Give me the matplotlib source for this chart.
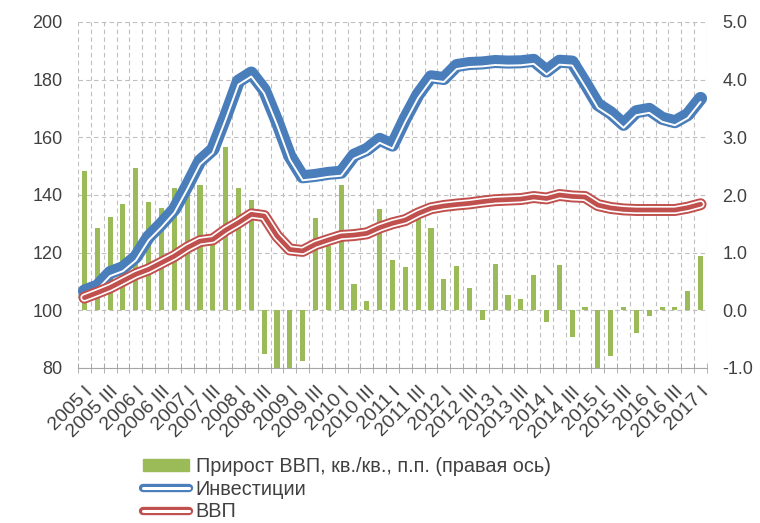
import matplotlib
matplotlib.use("Agg")
import matplotlib.pyplot as plt
import matplotlib.patheffects as pe
from matplotlib.lines import Line2D
from matplotlib.patches import Patch
import numpy as np

# Quarterly data, 2005 I .. 2017 I
years = list(range(2005, 2018))
quarter_names = ["I", "II", "III", "IV"]
quarters = [f"{y} {q}" for y in years for q in quarter_names][:49]

# GDP growth q/q, p.p. (right axis)
gdp_growth = [2.41, 1.43, 1.62, 1.85, 2.46, 1.88, 1.78, 2.13, 2.10, 2.17,
              1.15, 2.84, 2.13, 1.91, -0.75, -1.50, -1.30, -0.87, 1.60, 1.12,
              2.18, 0.45, 0.17, 1.75, 0.87, 0.76, 1.62, 1.42, 0.55, 0.77,
              0.39, -0.17, 0.81, 0.26, 0.19, 0.61, -0.20, 0.78, -0.47, 0.06,
              -1.05, -0.79, 0.05, -0.40, -0.10, 0.06, 0.05, 0.33, 0.95]

# Investments index (left axis)
investments = [106.7, 108.4, 113.1, 114.8, 118.5, 125.5, 130.0, 135.0, 143.1, 151.8,
               155.8, 167.3, 179.5, 182.3, 176.5, 165.6, 153.5, 146.3, 146.8, 147.5,
               147.9, 153.8, 155.8, 159.3, 157.3, 166.6, 174.9, 181.0, 180.4, 184.9,
               185.6, 185.8, 186.3, 186.1, 186.2, 186.7, 183.0, 186.4, 186.1, 178.9,
               171.4, 168.5, 164.5, 168.9, 169.7, 166.6, 165.4, 167.9, 173.5]

# GDP index (left axis)
gdp = [104.4, 106.1, 107.9, 110.2, 112.5, 114.2, 116.5, 118.8, 121.7, 124.0,
       124.6, 127.8, 130.4, 133.3, 132.7, 125.8, 121.1, 120.6, 122.9, 124.4,
       125.8, 126.1, 126.7, 128.7, 130.2, 131.3, 133.6, 135.4, 136.2, 136.7,
       137.1, 137.7, 138.2, 138.4, 138.6, 139.3, 138.8, 140.0, 139.5, 139.3,
       136.5, 135.5, 135.0, 134.8, 134.8, 134.8, 134.8, 135.6, 136.8]

left_ticks = [80, 100, 120, 140, 160, 180, 200]
right_ticks = [-1.0, 0.0, 1.0, 2.0, 3.0, 4.0, 5.0]

green = "#9BBB59"
blue = "#4A7EBB"
red = "#C0504D"
grid_c = "#BFBFBF"
text_c = "#404040"

plt.rcParams["font.family"] = ["Liberation Sans", "DejaVu Sans"]

fig = plt.figure(figsize=(7.6, 5.23), dpi=100)
ax = fig.add_axes([78 / 760, 1 - 368 / 523, (707 - 78) / 760, (368 - 22) / 523])
ax2 = ax.twinx()

x = np.arange(len(quarters))

# bars on the right-hand scale
ax.bar(x, gdp_growth, width=0.4, color=green, zorder=2)
ax.set_ylim(right_ticks[0], right_ticks[-1])
ax.set_xlim(-0.5, len(quarters) - 0.5)
ax.yaxis.tick_right()
ax.set_yticks(right_ticks)
ax.set_yticklabels([f"{v:.1f}" for v in right_ticks])
ax.tick_params(axis="y", length=0, pad=11, labelsize=13, labelcolor=text_c)

ax.set_xticks(x[::2])
ax.set_xticklabels(quarters[::2], rotation=45, ha="right", rotation_mode="anchor",
                   fontsize=14, color=text_c)
ax.set_xticks(np.arange(-0.5, len(quarters), 1), minor=True)
ax.tick_params(axis="x", which="major", length=0, pad=11)
ax.tick_params(axis="x", which="minor", direction="inout", length=7, color="#A6A6A6")

for s in ("top", "left", "right"):
    ax.spines[s].set_visible(False)
ax.spines["bottom"].set_color("#A6A6A6")

ax.grid(True, which="major", axis="y", color=grid_c, linestyle=(0, (4, 3)), lw=0.8)
ax.grid(True, which="minor", axis="x", color=grid_c, linestyle=(0, (4, 3)), lw=0.8)
ax.set_axisbelow(True)

# lines on the left-hand scale
ax2.set_ylim(left_ticks[0], left_ticks[-1])
ax2.yaxis.tick_left()
ax2.set_yticks(left_ticks)
ax2.tick_params(axis="y", length=0, pad=11, labelsize=13, labelcolor=text_c)
for s in ax2.spines.values():
    s.set_visible(False)

blue_fx = [pe.Stroke(linewidth=9.4, foreground=blue),
           pe.Stroke(linewidth=1.4, foreground="white", offset=(0, -2.5))]
red_fx = [pe.Stroke(linewidth=8.6, foreground=red),
          pe.Stroke(linewidth=5.8, foreground="white"),
          pe.Stroke(linewidth=3.4, foreground=red)]

ax2.plot(x, investments, color=blue, lw=9.4, solid_capstyle="round",
         solid_joinstyle="round", path_effects=blue_fx)
ax2.plot(x, gdp, color=red, lw=8.6, solid_capstyle="round",
         solid_joinstyle="round", path_effects=red_fx)

handles = [
    Patch(color=green),
    Line2D([0], [0], color=blue, lw=6, solid_capstyle="round",
           path_effects=[pe.Stroke(linewidth=6, foreground=blue),
                         pe.Stroke(linewidth=2.2, foreground="white")]),
    Line2D([0], [0], color=red, lw=6, solid_capstyle="round",
           path_effects=[pe.Stroke(linewidth=6, foreground=red),
                         pe.Stroke(linewidth=2.2, foreground="white")]),
]
labels = ["Прирост ВВП, кв./кв., п.п. (правая ось)", "Инвестиции", "ВВП"]
fig.legend(handles, labels, loc="upper left", bbox_to_anchor=(143 / 760, 1 - 457 / 523),
           frameon=False, fontsize=14.3, labelcolor=text_c, handlelength=2.3,
           handleheight=0.5, handletextpad=0.35, labelspacing=0.18, borderpad=0,
           borderaxespad=0)

fig.savefig("out.png", dpi=100)
